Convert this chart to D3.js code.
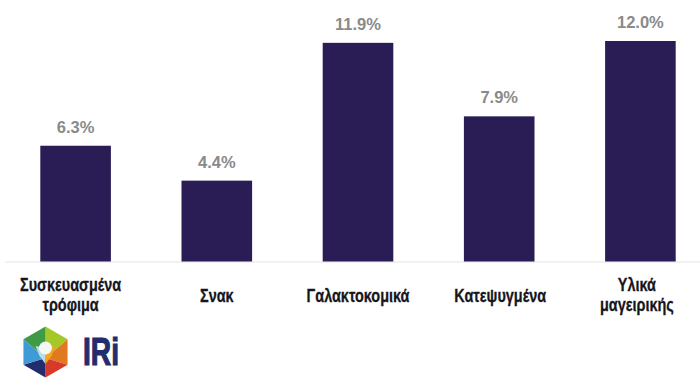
<!DOCTYPE html>
<html>
<head>
<meta charset="utf-8">
<script src="https://cdn.jsdelivr.net/npm/d3@7"></script>
<style>
  html, body { margin: 0; padding: 0; background: #fff; }
  svg { display: block; }
</style>
</head>
<body>
<div id="chart"></div>
<script>
const categories = ["Συσκευασμένα τρόφιμα", "Σνακ", "Γαλακτοκομικά", "Κατεψυγμένα", "Υλικά μαγειρικής"];
const values = [6.3, 4.4, 11.9, 7.9, 12.0];
const wrappedLabels = [["Συσκευασμένα", "τρόφιμα"], ["Σνακ"], ["Γαλακτοκομικά"], ["Κατεψυγμένα"], ["Υλικά", "μαγειρικής"]];
const logoColors = ["#a4c828", "#e07a20", "#d83a2a", "#232c6e", "#3f9bd5", "#3f9a46"];

const width = 700, height = 385;
const svg = d3.select("#chart").append("svg")
    .attr("width", width)
    .attr("height", height);

const x = d3.scaleBand()
    .domain(categories)
    .range([5, 711])
    .paddingInner(0.5)
    .paddingOuter(0.25);
const y = d3.scaleLinear()
    .domain([0, 12])
    .range([261.5, 41]);

svg.append("line")
    .attr("x1", 5).attr("x2", 700)
    .attr("y1", 262).attr("y2", 262)
    .attr("stroke", "#e4e4e8")
    .attr("stroke-width", 1);

svg.selectAll("rect.bar")
    .data(values)
    .enter().append("rect")
    .attr("class", "bar")
    .attr("x", (d, i) => x(categories[i]))
    .attr("y", d => y(d))
    .attr("width", x.bandwidth())
    .attr("height", d => y(0) - y(d))
    .attr("fill", "#2a1d55");

svg.selectAll("text.value")
    .data(values)
    .enter().append("text")
    .attr("class", "value")
    .attr("x", (d, i) => x(categories[i]) + x.bandwidth() / 2)
    .attr("y", d => y(d) - 13)
    .attr("text-anchor", "middle")
    .attr("font-family", "'Liberation Sans', Arial, sans-serif")
    .attr("font-weight", "bold")
    .attr("font-size", 16.5)
    .attr("fill", "#8a8a8a")
    .text(d => d.toFixed(1) + "%");

// labels are a condensed face in the original, so squeeze them horizontally
const labelShift = [-5, 0, 0, 1, -3.5];
wrappedLabels.forEach((lines, i) => {
    const cx = x(categories[i]) + x.bandwidth() / 2 + labelShift[i];
    const startY = lines.length > 1 ? 290.5 : 302;
    lines.forEach((line, j) => {
        svg.append("text")
            .attr("class", "cat")
            .attr("transform", `translate(${cx},${startY + j * 20}) scale(0.76,1)`)
            .attr("text-anchor", "middle")
            .attr("font-family", "'Liberation Sans', Arial, sans-serif")
            .attr("font-weight", "bold")
            .attr("font-size", 19)
            .attr("fill", "#16161c")
            .attr("stroke", "#16161c")
            .attr("stroke-width", 0.3)
            .text(line);
    });
});

// IRi logo
const logo = svg.append("g").attr("transform", "translate(45.5,352)");
const outerR = 25.5;
const hexPoint = (r, k) => {
    const a = -Math.PI / 2 + k * Math.PI / 3;
    return [r * Math.cos(a), r * Math.sin(a)];
};
logoColors.forEach((c, k) => {
    logo.append("path")
        .attr("d", d3.line()([hexPoint(outerR, k), hexPoint(outerR, k + 1), [0, 6]]))
        .attr("fill", c);
});
logo.append("path")
    .attr("d", d3.line()([[-10, -6], [-6, 4], [0, 12], [0, -4]]))
    .attr("fill", "#bcdcec");
logo.append("path")
    .attr("d", d3.line()([[10, -6], [6, 4], [0, 12], [0, -4]]))
    .attr("fill", "#f0a818");
logo.append("circle").attr("cx", 0).attr("cy", -4).attr("r", 6.5).attr("fill", "#f4f8f4");

svg.append("text")
    .attr("x", 83)
    .attr("y", 365)
    .attr("font-family", "'Liberation Sans', Arial, sans-serif")
    .attr("font-weight", "bold")
    .attr("font-size", 39)
    .attr("textLength", 36)
    .attr("lengthAdjust", "spacingAndGlyphs")
    .attr("fill", "#232c6e")
    .attr("stroke", "#232c6e")
    .attr("stroke-width", 1.2)
    .text("IRi");
</script>
</body>
</html>
